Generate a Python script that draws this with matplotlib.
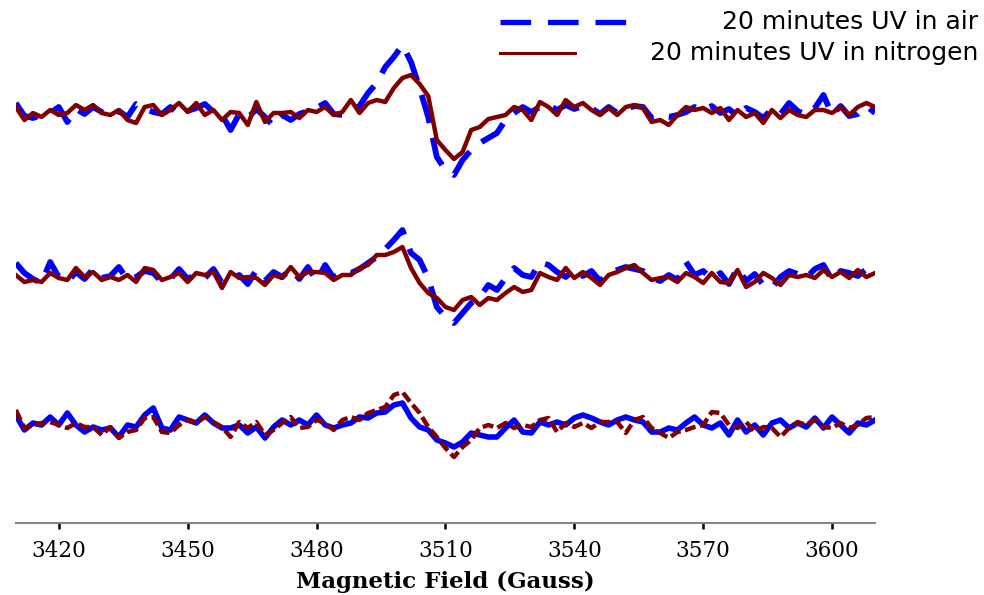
import numpy as np
import matplotlib
matplotlib.use("Agg")
import matplotlib.pyplot as plt

# Magnetic field grid (Gauss), 2 G step
FIELD = np.arange(3410, 3611, 2)

# Signal values (arbitrary units)
TOP_AIR = [9,-4,-6,-3,-1,5,-10,3,-2,5, 0,-4,1,-5,8,3,0,-2,5,-3, 1,4,8,0,-3,-18,-2,-6,3,-5,
           -14,-3,-8,-2,1,4,9,-2,-3,2, 6,
           19,29,45,55,67,50,24,-5,-45,-58,-63,-48,-38,-31,-26,-21,
           -8,-1,5,0,5,7,2,7,3,6, 4,-2,5,-1,3,6,5,-6,-4,-5, -3,0,5,2,6,-1,3,-4,4,0,
           -6,3,-2,9,1,-3,4,17,-3,6, -4,-2,6,-1]
TOP_N2 = [5,-8,-1,-5,2,-3,-1,7,2,7, -1,-3,2,-8,-11,5,7,-3,2,9, 0,9,-3,2,-8,0,-1,-13,10,-10,
          -1,-1,0,-6,2,0,5,-3,0,12, -1,
          9,12,10,24,34,37,28,16,-28,-38,-47,-40,-18,-15,-7,-5,
          -3,5,2,-8,10,5,-3,12,5,9, 2,-3,4,-3,5,7,4,-10,-8,-13, -3,5,2,4,-1,4,-8,2,-5,-1,
          -11,2,-6,2,-3,-5,2,2,-1,5, -3,5,9,5]
MID_AIR = [12,2,-4,-8,13,-2,-7,3,-4,6, -3,-1,8,-5,-2,4,2,-7,-4,6, -4,1,-3,6,-8,-5,0,-9,5,-6,
           3,-2,6,-4,8,-6,10,-3,4,2, 6,
           12,18,26,35,45,22,15,-3,-32,-42,-48,-38,-28,-22,-10,-15,
           -3,7,0,-2,13,10,3,-2,5,-1, 4,-6,2,5,8,6,4,-3,-6,0, -5,13,0,4,-4,2,-9,7,-6,1,
           -10,-13,-2,4,1,-3,6,10,-5,4, 2,-1,6,8]
MID_N2 = [0,-7,-5,-7,2,-3,-5,7,-2,3, -5,-2,-5,0,-7,7,5,-5,-2,2, -7,2,0,3,-13,3,-3,-2,-3,-10,
          0,-3,8,-2,3,3,2,-5,0,0, 7,
          10,20,20,23,28,7,-8,-18,-23,-32,-35,-25,-22,-30,-23,-25,
          -18,-12,-17,-15,2,-2,-5,7,-3,3, -3,-10,0,3,7,10,2,-5,-3,-2, -7,2,-2,-8,2,-7,-8,5,-12,-7,
          2,-3,-10,0,-2,0,-3,5,-2,3, -3,5,-2,2]
BOT_AIR = [10,-5,2,0,8,0,12,0,-7,-2, -5,-3,-12,0,-2,10,17,-3,-5,8, 5,2,10,2,-3,-3,0,-8,-2,-13,
           -2,5,0,5,0,10,0,-3,0,2, 8,
           7,12,13,20,22,7,-2,-5,-15,-18,-22,-17,-8,-10,-12,-12,
           -3,5,-7,-8,3,0,3,0,7,10, 7,3,0,5,8,5,3,-7,-7,-3, -5,2,8,0,-3,2,-10,5,-7,0,
           -10,2,5,-3,2,-2,7,-3,8,0, -8,2,0,5]
BOT_N2 = [15,-3,0,2,3,0,-3,2,-2,-2, -10,-2,-13,-7,-5,7,8,-7,-8,0, 5,2,8,3,-2,-12,3,-3,3,-10,
          -5,2,8,-3,-2,5,2,-5,5,8, 5,
          12,15,18,30,33,22,12,-2,-12,-23,-32,-22,-15,-3,0,-3,
          2,-3,0,-2,5,7,-7,2,-2,2, -3,3,3,3,-8,5,8,-3,-8,-13, -7,-5,-2,0,13,12,0,-3,3,-7,
          -2,-3,-12,-3,3,0,5,-2,-3,2, -3,0,7,8]

LABELS = ["20 minutes UV in air", "20 minutes UV in nitrogen"]
XTICKS = [3420, 3450, 3480, 3510, 3540, 3570, 3600]

BLUE = "#0000ff"
RED = "#800000"
OFFSETS = [411, 248, 98]

fig = plt.figure(figsize=(9.84, 5.95), dpi=100)
ax = fig.add_axes([15.8 / 984, 72 / 595, (875 - 15.8) / 984, 523 / 595])

pairs = [(TOP_AIR, TOP_N2), (MID_AIR, MID_N2), (BOT_AIR, BOT_N2)]
for i, ((air, n2), off) in enumerate(zip(pairs, OFFSETS)):
    air = np.asarray(air, float) + off
    n2 = np.asarray(n2, float) + off
    if i < 2:
        ax.plot(FIELD, air, color=BLUE, lw=4.2, dashes=(5, 2.6), zorder=2)
        ax.plot(FIELD, n2, color=RED, lw=3.2, zorder=3)
    else:
        ax.plot(FIELD, air, color=BLUE, lw=4.0, zorder=2)
        ax.plot(FIELD, n2, color=RED, lw=3.2, dashes=(2.5, 1.0), zorder=3)

ax.set_xlim(3410, 3610)
ax.set_ylim(0, 523)
for s in ["top", "right", "left"]:
    ax.spines[s].set_visible(False)
ax.spines["bottom"].set_color("#888888")
ax.spines["bottom"].set_linewidth(1.5)
ax.set_yticks([])
ax.set_xticks(XTICKS)
ax.set_xticklabels([str(t) for t in XTICKS], family="DejaVu Serif", fontsize=15.5)
ax.tick_params(axis="x", direction="out", length=4, width=1.8, color="black", pad=8)
ax.set_xlabel("Magnetic Field (Gauss)", family="DejaVu Serif", fontweight="bold",
              fontsize=16.5, labelpad=7)

# legend drawn in figure pixel coordinates
lax = fig.add_axes([0, 0, 1, 1], facecolor="none")
lax.set_xlim(0, 984)
lax.set_ylim(595, 0)
lax.axis("off")
lax.plot([500, 627], [22, 22], color=BLUE, lw=3.8, dashes=(5.8, 3.2))
lax.plot([500, 575], [53, 53], color=RED, lw=2.2)
lax.text(978, 22, LABELS[0], ha="right", va="center", family="DejaVu Sans", fontsize=18)
lax.text(978, 53, LABELS[1], ha="right", va="center", family="DejaVu Sans", fontsize=18)

fig.savefig("out.png", dpi=100)
